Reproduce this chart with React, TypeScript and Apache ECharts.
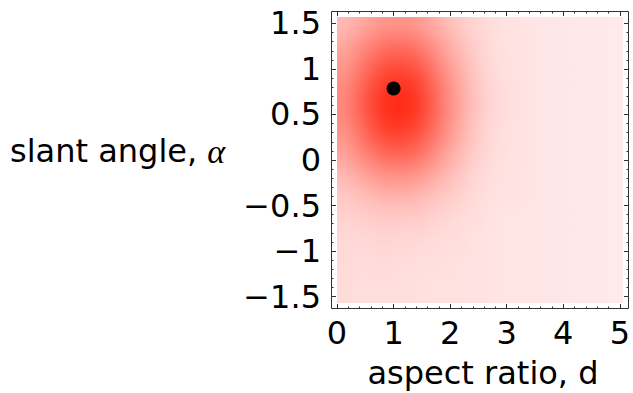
import React, { useEffect, useRef } from "react";
import * as echarts from "echarts";

// Column edges along the aspect ratio d
const X_EDGES = [0, 0.25, 0.5, 0.75, 1, 1.25, 1.5, 1.75, 2, 2.25, 2.5, 2.75, 3, 3.25, 3.5, 3.75, 4, 4.25, 4.5, 4.75, 5];
// Row edges along the slant angle alpha (from -pi/2 to pi/2, 20 rows)
const Y_EDGES = Array.from({ length: 21 }, (_, k) => -Math.PI / 2 + (k * Math.PI) / 20);

// Density, top row (alpha ≈ +pi/2) first
const DENSITY_ROWS = [
  [0.27, 0.34, 0.42, 0.47, 0.48, 0.45, 0.37, 0.28, 0.19, 0.12, 0.08, 0.05, 0.04, 0.03, 0.02, 0.02, 0.01, 0.01, 0.01, 0.0],
  [0.33, 0.43, 0.53, 0.60, 0.61, 0.57, 0.46, 0.35, 0.24, 0.15, 0.09, 0.05, 0.04, 0.04, 0.02, 0.02, 0.01, 0.01, 0.01, 0.0],
  [0.40, 0.52, 0.64, 0.73, 0.75, 0.70, 0.57, 0.42, 0.28, 0.17, 0.10, 0.06, 0.04, 0.04, 0.02, 0.02, 0.01, 0.01, 0.01, 0.0],
  [0.46, 0.60, 0.75, 0.86, 0.88, 0.82, 0.67, 0.49, 0.33, 0.20, 0.11, 0.06, 0.05, 0.04, 0.02, 0.02, 0.01, 0.01, 0.01, 0.0],
  [0.51, 0.67, 0.84, 0.96, 0.99, 0.92, 0.75, 0.55, 0.37, 0.22, 0.12, 0.07, 0.05, 0.04, 0.02, 0.02, 0.01, 0.01, 0.01, 0.0],
  [0.54, 0.71, 0.89, 1.02, 1.05, 0.98, 0.79, 0.58, 0.39, 0.23, 0.13, 0.07, 0.05, 0.04, 0.02, 0.02, 0.01, 0.01, 0.01, 0.0],
  [0.54, 0.72, 0.90, 1.03, 1.06, 0.99, 0.80, 0.59, 0.39, 0.23, 0.13, 0.07, 0.05, 0.04, 0.02, 0.02, 0.01, 0.01, 0.01, 0.0],
  [0.51, 0.68, 0.85, 0.97, 1.00, 0.93, 0.76, 0.56, 0.37, 0.22, 0.12, 0.07, 0.05, 0.04, 0.02, 0.02, 0.01, 0.01, 0.01, 0.0],
  [0.46, 0.61, 0.76, 0.87, 0.89, 0.83, 0.67, 0.50, 0.33, 0.20, 0.11, 0.06, 0.05, 0.04, 0.02, 0.02, 0.01, 0.01, 0.01, 0.0],
  [0.40, 0.52, 0.64, 0.73, 0.75, 0.70, 0.57, 0.42, 0.28, 0.17, 0.10, 0.06, 0.04, 0.04, 0.02, 0.02, 0.01, 0.01, 0.01, 0.0],
  [0.32, 0.42, 0.51, 0.58, 0.59, 0.55, 0.45, 0.34, 0.23, 0.14, 0.09, 0.05, 0.04, 0.04, 0.02, 0.02, 0.01, 0.01, 0.01, 0.0],
  [0.25, 0.32, 0.39, 0.44, 0.44, 0.41, 0.34, 0.26, 0.18, 0.11, 0.07, 0.05, 0.04, 0.03, 0.02, 0.02, 0.01, 0.01, 0.01, 0.0],
  [0.19, 0.23, 0.28, 0.31, 0.31, 0.29, 0.24, 0.19, 0.14, 0.09, 0.06, 0.04, 0.04, 0.03, 0.02, 0.02, 0.01, 0.01, 0.01, 0.0],
  [0.15, 0.17, 0.20, 0.22, 0.22, 0.21, 0.17, 0.14, 0.10, 0.07, 0.05, 0.04, 0.03, 0.03, 0.02, 0.02, 0.01, 0.01, 0.01, 0.0],
  [0.12, 0.13, 0.15, 0.16, 0.15, 0.15, 0.12, 0.10, 0.08, 0.06, 0.05, 0.03, 0.03, 0.03, 0.02, 0.02, 0.01, 0.01, 0.01, 0.0],
  [0.10, 0.10, 0.11, 0.12, 0.11, 0.11, 0.09, 0.08, 0.07, 0.05, 0.04, 0.03, 0.03, 0.03, 0.02, 0.02, 0.01, 0.01, 0.01, 0.0],
  [0.09, 0.09, 0.09, 0.10, 0.09, 0.08, 0.07, 0.06, 0.06, 0.05, 0.04, 0.03, 0.03, 0.03, 0.02, 0.02, 0.01, 0.01, 0.01, 0.0],
  [0.09, 0.08, 0.08, 0.08, 0.07, 0.07, 0.06, 0.06, 0.05, 0.04, 0.04, 0.03, 0.03, 0.03, 0.02, 0.02, 0.01, 0.01, 0.01, 0.0],
  [0.08, 0.07, 0.07, 0.07, 0.07, 0.06, 0.05, 0.05, 0.05, 0.04, 0.04, 0.03, 0.03, 0.03, 0.02, 0.02, 0.01, 0.01, 0.01, 0.0],
  [0.08, 0.07, 0.07, 0.07, 0.06, 0.06, 0.05, 0.05, 0.05, 0.04, 0.04, 0.03, 0.03, 0.03, 0.02, 0.02, 0.01, 0.01, 0.01, 0.0],
];

// Optimum marker (d = 1, alpha = pi/4)
const OPTIMUM = [[1, Math.PI / 4]];

const X_TICKS = [0, 5, 1];
const Y_TICKS = [-1.5, 1.5, 0.5];

const FONT = "DejaVu Sans";

// plot (data) region in page pixels
const PLOT = { left: 337, top: 17, size: 286 };
const PAD = 20; // extra drawing margin for the smoothed density layer
const BLUR = 6;

export default function App() {
  const ref = useRef<HTMLDivElement>(null);
  const heatRef = useRef<HTMLDivElement>(null);

  useEffect(() => {
    if (!heatRef.current) return;
    const chart = echarts.init(heatRef.current, undefined, { renderer: "svg" });
    const nRows = DENSITY_ROWS.length;
    const nCols = X_EDGES.length - 1;
    const cells: number[][] = [];
    DENSITY_ROWS.forEach((row, r) => {
      const k = nRows - 1 - r;
      row.forEach((v, c) => {
        cells.push([X_EDGES[c], X_EDGES[c + 1], Y_EDGES[k], Y_EDGES[k + 1], v, c, k]);
      });
    });
    const vmax = Math.max(...cells.map((c) => c[4]));
    chart.setOption({
      animation: false,
      backgroundColor: "transparent",
      grid: { left: PAD, top: PAD, width: PLOT.size, height: PLOT.size },
      xAxis: { type: "value", min: X_EDGES[0], max: X_EDGES[X_EDGES.length - 1], show: false },
      yAxis: { type: "value", min: Y_EDGES[0], max: Y_EDGES[Y_EDGES.length - 1], show: false },
      visualMap: {
        show: false,
        seriesIndex: 0,
        dimension: 4,
        min: 0,
        max: vmax,
        inRange: { color: ["#ffeaea", "#ff2a14"] },
      },
      series: [
        {
          type: "custom",
          data: cells,
          encode: { x: [0, 1], y: [2, 3] },
          silent: true,
          renderItem: (params: any, api: any) => {
            const p0 = api.coord([api.value(0), api.value(3)]);
            const p1 = api.coord([api.value(1), api.value(2)]);
            const c = api.value(5);
            const k = api.value(6);
            let x0 = p0[0], y0 = p0[1], x1 = p1[0] + 0.5, y1 = p1[1] + 0.5;
            if (c === 0) x0 -= PAD;
            if (c === nCols - 1) x1 += PAD;
            if (k === 0) y1 += PAD;
            if (k === nRows - 1) y0 -= PAD;
            return {
              type: "rect",
              shape: { x: x0, y: y0, width: x1 - x0, height: y1 - y0 },
              style: { fill: api.visual("color"), stroke: null },
            };
          },
        },
      ],
    });
    return () => chart.dispose();
  }, []);

  useEffect(() => {
    if (!ref.current) return;
    const chart = echarts.init(ref.current, undefined, { renderer: "svg" });

    const tickColor = "#333";
    const tickAxis = (extra: any) => ({
      type: "value",
      axisLine: { show: false, onZero: false },
      axisTick: { show: true, inside: true, length: 5, lineStyle: { color: tickColor, width: 1 } },
      minorTick: { show: true, splitNumber: 5, length: 2.5, lineStyle: { color: tickColor, width: 1 } },
      splitLine: { show: false },
      minorSplitLine: { show: false },
      ...extra,
    });
    const hidden = (extra: any) => ({ type: "value", show: false, axisLine: { onZero: false }, ...extra });
    const fmt = (v: number) => String(Math.round(v * 10) / 10).replace("-", "\u2212");
    const unit = PLOT.size / Math.PI;

    chart.setOption({
      animation: false,
      backgroundColor: "transparent",
      grid: [
        { left: PLOT.left, top: PLOT.top, width: PLOT.size, height: PLOT.size },
        { left: PLOT.left, top: PLOT.top + PLOT.size / 2 - 1.5 * unit, width: PLOT.size, height: 3 * unit },
      ],
      xAxis: [
        tickAxis({
          gridIndex: 0,
          position: "bottom",
          offset: 6,
          min: X_TICKS[0],
          max: X_TICKS[1],
          interval: X_TICKS[2],
          axisLabel: { show: true, margin: 8, fontSize: 32, fontFamily: FONT, color: "#000" },
        }),
        tickAxis({
          gridIndex: 0,
          position: "top",
          offset: 6,
          min: X_TICKS[0],
          max: X_TICKS[1],
          interval: X_TICKS[2],
          axisLabel: { show: false },
        }),
        hidden({ gridIndex: 1, min: 0, max: 5 }),
      ],
      yAxis: [
        hidden({ gridIndex: 0, min: -Math.PI / 2, max: Math.PI / 2 }),
        tickAxis({
          gridIndex: 1,
          position: "left",
          offset: 6,
          min: Y_TICKS[0],
          max: Y_TICKS[1],
          interval: Y_TICKS[2],
          axisLabel: { show: true, margin: 10, fontSize: 32, fontFamily: FONT, color: "#000", formatter: fmt },
        }),
        tickAxis({
          gridIndex: 1,
          position: "right",
          offset: 6,
          min: Y_TICKS[0],
          max: Y_TICKS[1],
          interval: Y_TICKS[2],
          axisLabel: { show: false },
        }),
      ],
      series: [
        {
          type: "scatter",
          xAxisIndex: 0,
          yAxisIndex: 0,
          data: OPTIMUM,
          symbol: "circle",
          symbolSize: 14,
          itemStyle: { color: "#000", opacity: 1 },
          z: 5,
        },
      ],
      graphic: [
        {
          type: "rect",
          shape: { x: 331.5, y: 11.5, width: 297, height: 297 },
          style: { fill: "none", stroke: "#333", lineWidth: 1 },
          z: 10,
          silent: true,
        },
        {
          type: "text",
          left: 10,
          top: 134,
          style: {
            text: "slant angle, {a|α}",
            font: `32px "${FONT}"`,
            fill: "#000",
            rich: {
              a: { fontFamily: "Liberation Serif", fontStyle: "italic", fontSize: 34, fill: "#000" },
            },
          },
          z: 10,
        },
        {
          type: "text",
          x: 483,
          y: 373,
          style: {
            text: "aspect ratio, d",
            font: `32px "${FONT}"`,
            fill: "#000",
            textAlign: "center",
            textVerticalAlign: "middle",
          },
          z: 10,
        },
      ],
    });
    return () => chart.dispose();
  }, []);

  return (
    <div style={{ position: "fixed", left: 0, top: 0, width: 633, height: 393, background: "#fff" }}>
      <div
        style={{
          position: "absolute",
          left: PLOT.left,
          top: PLOT.top,
          width: PLOT.size,
          height: PLOT.size,
          overflow: "hidden",
        }}
      >
        <div
          ref={heatRef}
          style={{
            position: "absolute",
            left: -PAD,
            top: -PAD,
            width: PLOT.size + 2 * PAD,
            height: PLOT.size + 2 * PAD,
            filter: `blur(${BLUR}px)`,
          }}
        />
      </div>
      <div ref={ref} style={{ position: "absolute", left: 0, top: 0, width: 633, height: 393 }} />
    </div>
  );
}
